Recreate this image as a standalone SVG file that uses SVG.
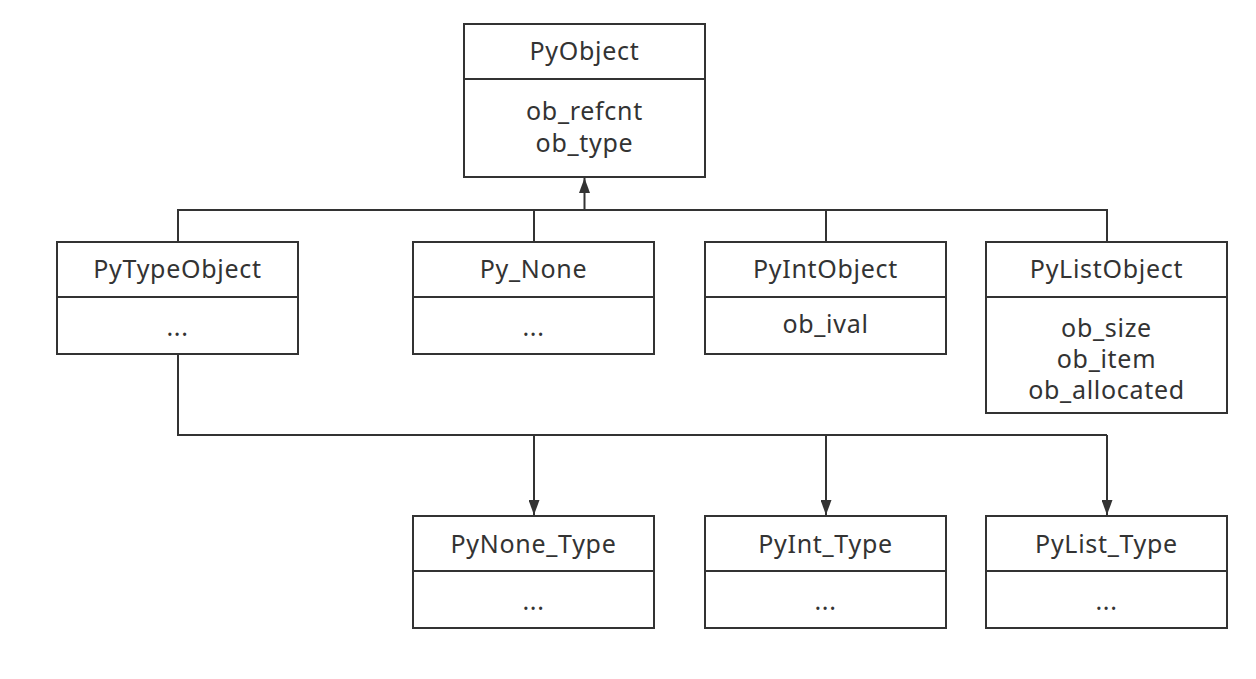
<svg xmlns="http://www.w3.org/2000/svg" width="1256" height="679" viewBox="0 0 1256 679">
<style>
.box{fill:#fff;stroke:#333;stroke-width:2}
.div{stroke:#333;stroke-width:2}
.t{font-family:"Noto Sans","Open Sans",sans-serif;font-size:25px;letter-spacing:0.7px;fill:#333;text-anchor:middle}
.c{fill:none;stroke:#333;stroke-width:2}
</style>
<defs>
<marker id="ah" markerWidth="15" markerHeight="11" refX="15" refY="5.5" orient="auto" markerUnits="userSpaceOnUse">
<path d="M0,0 L15,5.5 L0,11 Z" fill="#333"/>
</marker>
</defs>
<rect width="1256" height="679" fill="#fff"/>
<g id="connectors">
<path class="c" d="M178,242 V210 H1107 V242 M534,210 V242 M826,210 V242"/>
<path class="c" d="M584.5,210 V178" marker-end="url(#ah)"/>
<path class="c" d="M178,354 V435 H1107"/>
<path class="c" d="M534,435 V515" marker-end="url(#ah)"/>
<path class="c" d="M826,435 V515" marker-end="url(#ah)"/>
<path class="c" d="M1107,435 V515" marker-end="url(#ah)"/>
</g>
<g id="PyObject">
<rect class="box" x="464" y="24" width="241" height="153"/>
<line class="div" x1="464" y1="79" x2="705" y2="79"/>
<text class="t" x="584.5" y="60">PyObject</text>
<text class="t" x="584.5" y="120">ob_refcnt<tspan x="584.5" y="152">ob_type</tspan></text>
</g>
<g id="PyTypeObject">
<rect class="box" x="57" y="242" width="241" height="112"/>
<line class="div" x1="57" y1="297" x2="298" y2="297"/>
<text class="t" x="177.5" y="278">PyTypeObject</text>
<text class="t" x="177.5" y="336">...</text>
</g>
<g id="Py_None">
<rect class="box" x="413" y="242" width="241" height="112"/>
<line class="div" x1="413" y1="297" x2="654" y2="297"/>
<text class="t" x="533.5" y="278">Py_None</text>
<text class="t" x="533.5" y="336">...</text>
</g>
<g id="PyIntObject">
<rect class="box" x="705" y="242" width="241" height="112"/>
<line class="div" x1="705" y1="297" x2="946" y2="297"/>
<text class="t" x="825.5" y="278">PyIntObject</text>
<text class="t" x="825.5" y="333">ob_ival</text>
</g>
<g id="PyListObject">
<rect class="box" x="986" y="242" width="241" height="171"/>
<line class="div" x1="986" y1="297" x2="1227" y2="297"/>
<text class="t" x="1106.5" y="278">PyListObject</text>
<text class="t" x="1106.5" y="337">ob_size<tspan x="1106.5" y="368">ob_item</tspan><tspan x="1106.5" y="399">ob_allocated</tspan></text>
</g>
<g id="PyNone_Type">
<rect class="box" x="413" y="516" width="241" height="112"/>
<line class="div" x1="413" y1="571" x2="654" y2="571"/>
<text class="t" x="533.5" y="553">PyNone_Type</text>
<text class="t" x="533.5" y="610">...</text>
</g>
<g id="PyInt_Type">
<rect class="box" x="705" y="516" width="241" height="112"/>
<line class="div" x1="705" y1="571" x2="946" y2="571"/>
<text class="t" x="825.5" y="553">PyInt_Type</text>
<text class="t" x="825.5" y="610">...</text>
</g>
<g id="PyList_Type">
<rect class="box" x="986" y="516" width="241" height="112"/>
<line class="div" x1="986" y1="571" x2="1227" y2="571"/>
<text class="t" x="1106.5" y="553">PyList_Type</text>
<text class="t" x="1106.5" y="610">...</text>
</g>
</svg>
